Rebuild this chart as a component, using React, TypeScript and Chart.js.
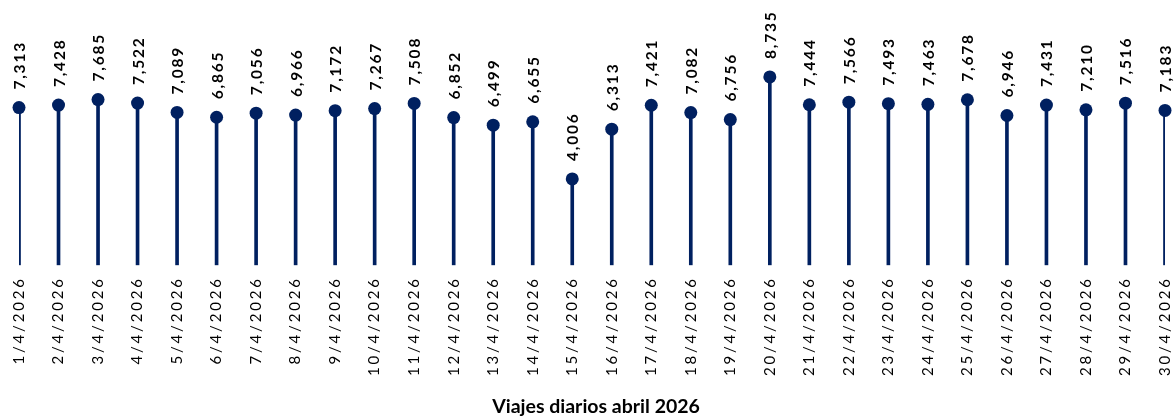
import React, { useEffect, useRef } from 'react';
import { Chart, registerables } from 'chart.js';

Chart.register(...registerables);

const dates = [
  '1/4/2026', '2/4/2026', '3/4/2026', '4/4/2026', '5/4/2026', '6/4/2026',
  '7/4/2026', '8/4/2026', '9/4/2026', '10/4/2026', '11/4/2026', '12/4/2026',
  '13/4/2026', '14/4/2026', '15/4/2026', '16/4/2026', '17/4/2026', '18/4/2026',
  '19/4/2026', '20/4/2026', '21/4/2026', '22/4/2026', '23/4/2026', '24/4/2026',
  '25/4/2026', '26/4/2026', '27/4/2026', '28/4/2026', '29/4/2026', '30/4/2026',
];

const trips = [
  7313, 7428, 7685, 7522, 7089, 6865, 7056, 6966, 7172, 7267,
  7508, 6852, 6499, 6655, 4006, 6313, 7421, 7082, 6756, 8735,
  7444, 7566, 7493, 7463, 7678, 6946, 7431, 7210, 7516, 7183,
];

const titleText = 'Viajes diarios abril 2026';

const NAVY = '#002060';
const FONT = 'Lato, "Open Sans", sans-serif';

const fmt = (v: number) => String(v).replace(/\B(?=(\d{3})+(?!\d))/g, ',');

const textPlugin = {
  id: 'lollipopText',
  beforeUpdate(chart: any) {
    chart.ctx.letterSpacing = '2.8px';
  },
  beforeDraw(chart: any) {
    chart.ctx.letterSpacing = '2.8px';
  },
  afterDraw(chart: any) {
    const ctx = chart.ctx;
    const meta = chart.getDatasetMeta(1);
    ctx.save();
    ctx.letterSpacing = '1.8px';
    ctx.font = `bold 15.5px ${FONT}`;
    ctx.fillStyle = '#000';
    ctx.textAlign = 'left';
    ctx.textBaseline = 'middle';
    meta.data.forEach((el: any, i: number) => {
      ctx.save();
      ctx.translate(el.x + 1, el.y - 18);
      ctx.rotate(-Math.PI / 2);
      ctx.fillText(fmt(trips[i]), 0, 0);
      ctx.restore();
    });
    ctx.letterSpacing = '0px';
    ctx.font = `bold 19.5px ${FONT}`;
    ctx.textAlign = 'center';
    ctx.textBaseline = 'alphabetic';
    const cx = (chart.chartArea.left + chart.chartArea.right) / 2 + 4;
    ctx.fillText(titleText, cx, chart.height - 6);
    ctx.restore();
    ctx.letterSpacing = '2.8px';
  },
};

export default function App() {
  const ref = useRef<HTMLCanvasElement | null>(null);

  useEffect(() => {
    if (!ref.current) return;
    const chart = new Chart(ref.current, {
      type: 'bar',
      data: {
        labels: dates,
        datasets: [
          {
            type: 'bar',
            data: trips,
            backgroundColor: NAVY,
            barThickness: 3,
            order: 2,
          } as any,
          {
            type: 'line',
            data: trips,
            showLine: false,
            pointRadius: 6.5,
            pointHoverRadius: 6.5,
            pointBackgroundColor: NAVY,
            pointBorderWidth: 0,
            borderColor: NAVY,
            order: 1,
            clip: false,
          } as any,
        ],
      },
      options: {
        animation: false,
        responsive: true,
        maintainAspectRatio: false,
        layout: { padding: { left: 19, right: 11, top: 2, bottom: 32 } },
        plugins: {
          legend: { display: false },
          title: { display: false },
          tooltip: { enabled: false },
        },
        scales: {
          x: {
            offset: false,
            grid: { display: false, drawTicks: false },
            border: { display: false },
            afterFit: (scale: any) => {
              scale.paddingLeft = 0;
              scale.paddingRight = 0;
            },
            ticks: {
              autoSkip: false,
              minRotation: 90,
              maxRotation: 90,
              padding: 11,
              color: '#000',
              font: { family: FONT, size: 15 },
            },
          },
          y: {
            display: false,
            min: 0,
            max: 12000,
          },
        },
      },
      plugins: [textPlugin],
    });
    return () => chart.destroy();
  }, []);

  return (
    <div style={{ position: 'absolute', left: 0, top: 0, width: 1176, height: 419 }}>
      <canvas ref={ref} />
    </div>
  );
}
